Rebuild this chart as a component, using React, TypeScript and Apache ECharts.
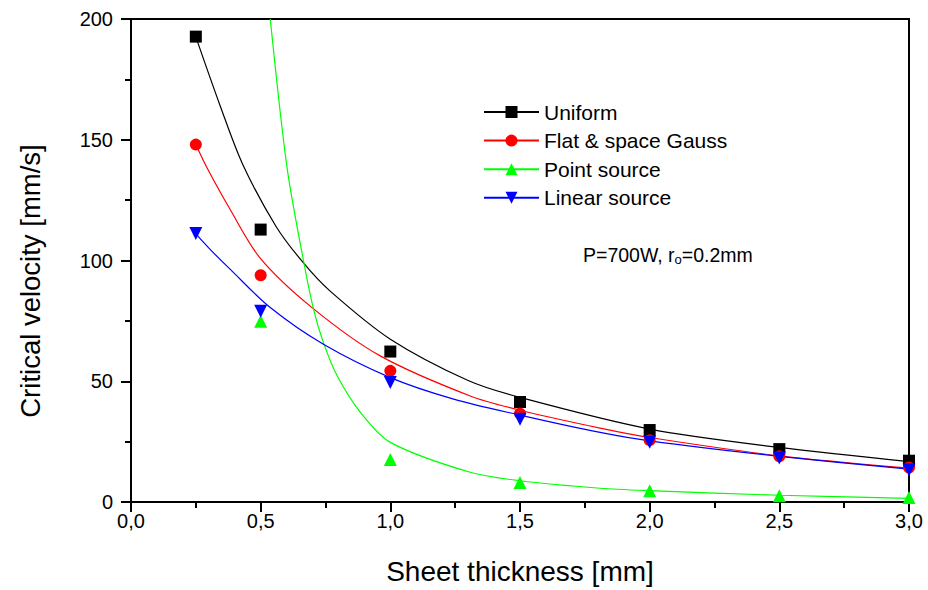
import React, { useEffect, useRef } from "react";
import * as echarts from "echarts";

// Measured data points
const thicknessX = [0.25, 0.5, 1.0, 1.5, 2.0, 2.5, 3.0];
const uniformY = [192.7, 112.8, 62.3, 41.4, 29.8, 21.9, 17.1];
const flatGaussY = [148, 93.9, 54.3, 36.6, 25.6, 18.9, 14.3];
const pointX = [0.5, 1.0, 1.5, 2.0, 2.5, 3.0];
const pointY = [74.8, 17.6, 8.1, 4.7, 2.6, 1.9];
const linearY = [111.2, 79, 49.5, 34.3, 24.7, 18.2, 13.3];

// Fitted curves
const uniformFitX = [0.25, 0.344, 0.43, 0.56, 0.665, 0.768, 1.0, 1.3, 1.5, 2.0, 2.5, 3.0];
const uniformFitY = [192.6, 164, 140, 114, 99, 87.3, 67.4, 50.3, 43.3, 30.2, 22.6, 16.7];
const flatFitX = [0.25, 0.293, 0.383, 0.498, 0.698, 0.961, 1.308, 1.5, 1.809, 2.0, 2.5, 3.0];
const flatFitY = [148, 138.4, 121, 101, 80.5, 60.5, 43.9, 38.0, 30.6, 26.7, 19.1, 14];
const pointFitX = [0.537, 0.601, 0.665, 0.704, 0.742, 0.794, 0.884, 1.0, 1.308, 1.5, 1.809, 2.0, 2.5, 3.0];
const pointFitY = [200, 139, 100, 79.8, 66, 52.5, 37.2, 24.7, 12.3, 8.8, 5.7, 4.7, 2.8, 1.5];
const linearFitX = [0.25, 0.306, 0.383, 0.537, 0.742, 1.0, 1.244, 1.5, 1.809, 2.0, 2.5, 3.0];
const linearFitY = [111, 104.5, 96.3, 80.5, 65.3, 51.5, 42.6, 36, 28.8, 25.3, 18.9, 13.6];

const seriesNames = ["Uniform", "Flat & space Gauss", "Point source", "Linear source"];
const xTicks = { min: 0, max: 3, interval: 0.5 };
const yTicks = { min: 0, max: 200, interval: 50 };

const FONT = "Liberation Sans, Arial, sans-serif";

const zip = (xs: number[], ys: number[]) => xs.map((x, i) => [x, ys[i]]);

export default function App() {
  const ref = useRef<HTMLDivElement>(null);
  useEffect(() => {
    if (!ref.current) return;
    const chart = echarts.init(ref.current, undefined, { renderer: "svg" });
    const colors = ["#000000", "#ff0000", "#00ff00", "#0000ff"];
    const symbols = ["rect", "circle", "triangle", "triangle"];
    const rotates = [0, 0, 0, 180];
    const fits = [
      zip(uniformFitX, uniformFitY),
      zip(flatFitX, flatFitY),
      zip(pointFitX, pointFitY),
      zip(linearFitX, linearFitY),
    ];
    const pts = [
      zip(thicknessX, uniformY),
      zip(thicknessX, flatGaussY),
      zip(pointX, pointY),
      zip(thicknessX, linearY),
    ];
    const sizes = [12, 12, 13, 13];
    const lineSeries = seriesNames.map((n, i) => ({
      name: n,
      type: "line",
      data: fits[i],
      smooth: 0.3,
      showSymbol: false,
      symbol: symbols[i],
      symbolRotate: rotates[i],
      symbolSize: sizes[i],
      lineStyle: { color: colors[i], width: 1.2 },
      itemStyle: { color: colors[i] },
      clip: true,
      silent: true,
      z: 2,
    }));
    const scatterSeries = seriesNames.map((n, i) => ({
      name: n + " data",
      type: "scatter",
      data: pts[i],
      symbol: symbols[i],
      symbolRotate: rotates[i],
      symbolSize: sizes[i],
      itemStyle: { color: colors[i], opacity: 1 },
      silent: true,
      z: 3,
    }));
    chart.setOption({
      animation: false,
      backgroundColor: "#ffffff",
      grid: {
        left: 131,
        right: 19,
        top: 19,
        bottom: 87,
        show: true,
        borderColor: "#000",
        borderWidth: 2,
        containLabel: false,
      },
      legend: {
        data: seriesNames,
        orient: "vertical",
        left: 483,
        top: 101.5,
        padding: 0,
        itemWidth: 55,
        itemHeight: 15,
        itemGap: 7.6,
        textStyle: { fontSize: 21, color: "#000", fontFamily: FONT },
        selectedMode: false,
      },
      xAxis: {
        type: "value",
        min: xTicks.min,
        max: xTicks.max,
        interval: xTicks.interval,
        name: "Sheet thickness [mm]",
        nameLocation: "middle",
        nameGap: 55,
        nameTextStyle: { fontSize: 28, color: "#000", fontFamily: FONT },
        axisLine: { show: true, lineStyle: { color: "#000", width: 2 } },
        axisTick: { show: true, length: 10, lineStyle: { color: "#000", width: 2 } },
        minorTick: { show: true, splitNumber: 2, length: 6, lineStyle: { color: "#000", width: 2 } },
        splitLine: { show: false },
        axisLabel: {
          fontSize: 20,
          color: "#000",
          fontFamily: FONT,
          margin: 9,
          formatter: (v: number) => v.toFixed(1).replace(".", ","),
        },
      },
      yAxis: {
        type: "value",
        min: yTicks.min,
        max: yTicks.max,
        interval: yTicks.interval,
        axisLine: { show: true, lineStyle: { color: "#000", width: 2 } },
        axisTick: { show: true, length: 10, lineStyle: { color: "#000", width: 2 } },
        minorTick: { show: true, splitNumber: 2, length: 6, lineStyle: { color: "#000", width: 2 } },
        splitLine: { show: false },
        axisLabel: { fontSize: 20, color: "#000", fontFamily: FONT, margin: 18 },
      },
      graphic: [
        {
          type: "text",
          x: 30,
          y: 281,
          rotation: Math.PI / 2,
          style: {
            text: "Critical velocity [mm/s]",
            fontSize: 27.5,
            fontFamily: FONT,
            fill: "#000",
            align: "center",
            verticalAlign: "middle",
          },
        },
        {
          type: "text",
          left: 583,
          top: 245,
          style: {
            text: "{a|P=700W, r}{b|o}{a|=0.2mm}",
            rich: {
              a: { fontSize: 19.5, fontFamily: FONT, fill: "#000", color: "#000" },
              b: { fontSize: 13, fontFamily: FONT, fill: "#000", color: "#000", padding: [9, 0, 0, 0] },
            },
          },
        },
      ],
      series: [...lineSeries, ...scatterSeries],
    });
    return () => chart.dispose();
  }, []);
  return (
    <div
      ref={ref}
      style={{ width: 928, height: 590, position: "fixed", left: 0, top: 0 }}
    />
  );
}
